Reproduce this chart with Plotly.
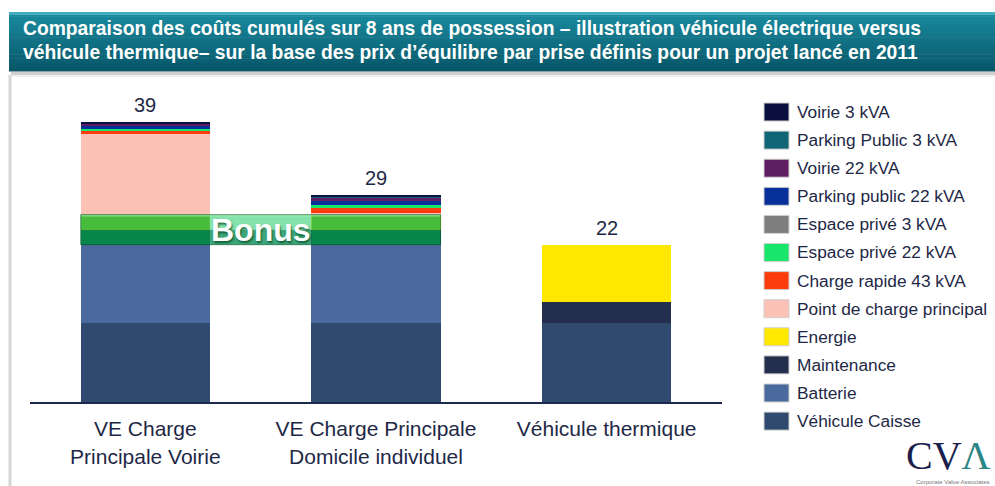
import plotly.graph_objects as go

# ---------------- data ----------------
categories = ["VE Charge<br>Principale Voirie",
              "VE Charge Principale<br>Domicile individuel",
              "Véhicule thermique"]

# stack order: bottom -> top
series_names = ["Véhicule Caisse", "Batterie", "Maintenance", "Energie",
                "Point de charge principal", "Charge rapide 43 kVA",
                "Espace privé 22 kVA", "Espace privé 3 kVA",
                "Parking public 22 kVA", "Voirie 22 kVA",
                "Parking Public 3 kVA", "Voirie 3 kVA"]

vehicule_caisse   = [11.0, 11.0, 11.0]
batterie          = [11.0, 11.0, 0.0]
maintenance       = [2.0, 2.0, 3.0]
energie           = [2.2, 2.2, 8.0]
point_charge      = [11.3, 0.3, 0.0]
charge_rapide     = [0.35, 0.7, 0.0]
espace_prive_22   = [0.4, 0.3, 0.0]
espace_prive_3    = [0.0, 0.0, 0.0]
parking_public_22 = [0.3, 0.6, 0.0]
voirie_22         = [0.35, 0.5, 0.0]
parking_public_3  = [0.1, 0.2, 0.0]
voirie_3          = [0.2, 0.2, 0.0]

series_values = [vehicule_caisse, batterie, maintenance, energie, point_charge,
                 charge_rapide, espace_prive_22, espace_prive_3,
                 parking_public_22, voirie_22, parking_public_3, voirie_3]

series_colors = ["#2f4a6e", "#4a6a9e", "#232f4c", "#ffe800", "#fcc2b6",
                 "#fb3c0c", "#17e66a", "#7f7f7f", "#07309a", "#5e1d60",
                 "#0f6475", "#0b0f3f"]

bonus_low, bonus_high = 22.0, 26.2   # bonus band (k€ scale)

title_lines = ["Comparaison des coûts cumulés sur 8 ans de possession – illustration véhicule électrique versus",
               "véhicule thermique– sur la base des prix d’équilibre par prise définis pour un projet lancé en 2011"]

NAVY = "#1e2846"
W, H = 995, 486
L, R, T, B = 30, 273, 90, 84
PW, PH = W - L - R, H - T - B


def px_x(px):
    return (px - L) / PW


def px_y(py):
    return (H - B - py) / PH


fig = go.Figure()
for name, vals, col in zip(series_names, series_values, series_colors):
    fig.add_trace(go.Bar(x=categories, y=vals, name=name,
                         marker=dict(color=col, line=dict(width=0)),
                         showlegend=False, hoverinfo="name+y"))

shapes = []
annotations = []

# title band with gradient
n = 14
top_c, bot_c = (26, 138, 158), (9, 88, 106)
y_top, y_bot = 12, 71
for i in range(n):
    t = i / (n - 1)
    c = tuple(int(top_c[k] + (bot_c[k] - top_c[k]) * t) for k in range(3))
    y0 = y_top + (y_bot - y_top) * i / n
    y1 = y_top + (y_bot - y_top) * (i + 1) / n
    shapes.append(dict(type="rect", xref="paper", yref="paper",
                       x0=px_x(9), x1=px_x(1000), y0=px_y(y1 + 0.5), y1=px_y(y0),
                       fillcolor="rgb(%d,%d,%d)" % c, line=dict(width=0), layer="above"))
shapes.append(dict(type="rect", xref="paper", yref="paper",
                   x0=px_x(9), x1=px_x(1000), y0=px_y(15), y1=px_y(12),
                   fillcolor="rgb(70,172,192)", line=dict(width=0), layer="above"))
# shadow under title band
shapes.append(dict(type="rect", xref="paper", yref="paper",
                   x0=px_x(11), x1=px_x(1000), y0=px_y(75), y1=px_y(71),
                   fillcolor="rgba(150,150,150,0.45)", line=dict(width=0), layer="above"))
# frame lines
shapes.append(dict(type="line", xref="paper", yref="paper",
                   x0=px_x(10), x1=px_x(10), y0=px_y(75), y1=px_y(490),
                   line=dict(color="#d6d6d6", width=3)))
shapes.append(dict(type="line", xref="paper", yref="paper",
                   x0=px_x(10), x1=px_x(1000), y0=px_y(76), y1=px_y(76),
                   line=dict(color="#e4e4e4", width=1)))

for i, line in enumerate(title_lines):
    annotations.append(dict(xref="paper", yref="paper", x=px_x(21), y=px_y(28 + 24 * i),
                            xanchor="left", yanchor="middle", showarrow=False,
                            text="<b>%s</b>" % line,
                            font=dict(family="Liberation Sans, Arial", size=19.3, color="white")))

# bonus band
bw = 0.28
mid = (bonus_low + bonus_high) / 2
for xa, xb, topcol, botcol in [(-bw, bw, "#46bb3c", "#07864a"),
                               (bw, 1 - bw, "#86e2ad", "#3ea77a"),
                               (1 - bw, 1 + bw, "#46bb3c", "#07864a")]:
    shapes.append(dict(type="rect", xref="x", yref="y", x0=xa, x1=xb, y0=mid, y1=bonus_high,
                       fillcolor=topcol, line=dict(width=0), layer="above"))
    shapes.append(dict(type="rect", xref="x", yref="y", x0=xa, x1=xb, y0=bonus_low, y1=mid,
                       fillcolor=botcol, line=dict(width=0), layer="above"))
shapes.append(dict(type="rect", xref="x", yref="y", x0=-bw, x1=1 + bw,
                   y0=bonus_high - 0.25, y1=bonus_high,
                   fillcolor="rgba(170,240,170,0.7)", line=dict(width=0), layer="above"))
shapes.append(dict(type="rect", xref="x", yref="y", x0=-bw, x1=1 + bw,
                   y0=bonus_low, y1=bonus_high,
                   fillcolor="rgba(0,0,0,0)", line=dict(width=1, color="rgba(10,90,50,0.6)"),
                   layer="above"))
annotations.append(dict(xref="x", yref="y", x=0.5, y=mid, text="<b>Bonus</b>", showarrow=False,
                        xanchor="center", yanchor="middle",
                        font=dict(family="Liberation Sans, Arial", size=32, color="white",
                                  shadow="1px 2px 2px rgba(0,70,30,0.7)")))

# totals
for i, c in enumerate(categories):
    tot = sum(v[i] for v in series_values)
    annotations.append(dict(xref="x", yref="y", x=c, y=tot, text=str(int(round(tot))),
                            showarrow=False, yanchor="bottom", yshift=4,
                            font=dict(family="Liberation Sans, Arial", size=20, color=NAVY)))

# manual legend (top -> bottom = reverse of stack)
for j, idx in enumerate(reversed(range(len(series_names)))):
    cy = 112 + j * 28.1
    shapes.append(dict(type="rect", xref="paper", yref="paper",
                       x0=px_x(764), x1=px_x(789), y0=px_y(cy + 9), y1=px_y(cy - 9),
                       fillcolor=series_colors[idx], line=dict(width=1, color="#d0d0d0")))
    annotations.append(dict(xref="paper", yref="paper", x=px_x(795), y=px_y(cy),
                            xanchor="left", yanchor="middle", showarrow=False,
                            text=series_names[idx],
                            font=dict(family="Liberation Sans, Arial", size=17.3, color=NAVY)))

# CVA logo
annotations.append(dict(xref="paper", yref="paper", x=px_x(948), y=px_y(455),
                        xanchor="center", yanchor="middle", showarrow=False,
                        text="<span style='color:#1b1f4d'>CV</span><span style='color:#2b8585'>Λ</span>",
                        font=dict(family="Liberation Serif, Times New Roman", size=40)))
annotations.append(dict(xref="paper", yref="paper", x=px_x(953), y=px_y(482),
                        xanchor="center", yanchor="middle", showarrow=False,
                        text="Corporate Value Associates",
                        font=dict(family="Liberation Sans, Arial", size=6, color="#777777")))

fig.update_layout(
    width=W, height=H,
    margin=dict(l=L, r=R, t=T, b=B, pad=0),
    paper_bgcolor="white", plot_bgcolor="white",
    barmode="stack", bargap=0.44,
    showlegend=False,
    xaxis=dict(showline=True, linecolor="#1b2a4e", linewidth=2, showgrid=False,
               ticks="outside", ticklen=7, tickcolor="rgba(0,0,0,0)",
               tickfont=dict(family="Liberation Sans, Arial", size=21, color=NAVY),
               range=[-0.5, 2.5], fixedrange=True),
    yaxis=dict(visible=False, range=[0, PH / 7.15], showgrid=False, zeroline=False,
               fixedrange=True),
    shapes=shapes, annotations=annotations,
)

fig.write_html("out.html", config={"displayModeBar": False},
               post_script="document.body.style.margin='0';document.body.style.overflow='hidden';")
